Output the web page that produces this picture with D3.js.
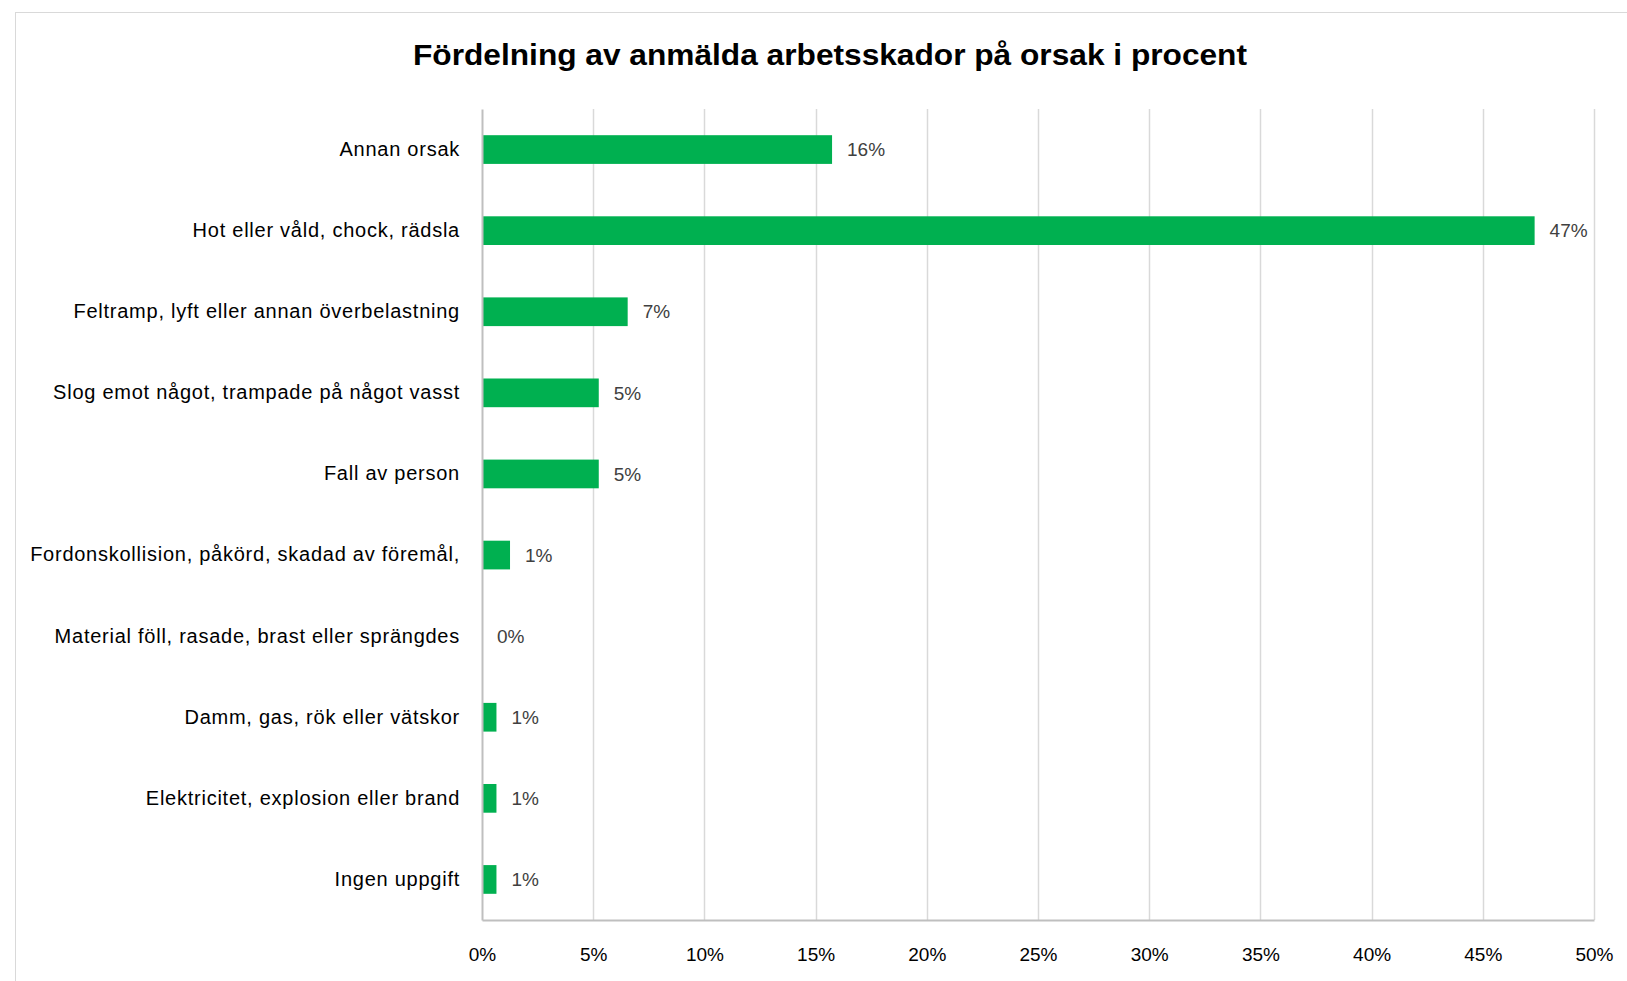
<!DOCTYPE html>
<html><head><meta charset="utf-8">
<script src="https://cdn.jsdelivr.net/npm/d3@7"></script>
<style>
html,body{margin:0;padding:0;background:#fff;}
svg{display:block;}
text{font-family:"Liberation Sans",Arial,sans-serif;}
</style></head>
<body>
<svg id="chart" width="1627" height="981"></svg>
<script>
const title = "Fördelning av anmälda arbetsskador på orsak i procent";
const categories = [
  "Annan orsak",
  "Hot eller våld, chock, rädsla",
  "Feltramp, lyft eller annan överbelastning",
  "Slog emot något, trampade på något vasst",
  "Fall av person",
  "Fordonskollision, påkörd, skadad av föremål,",
  "Material föll, rasade, brast eller sprängdes",
  "Damm, gas, rök eller vätskor",
  "Elektricitet, explosion eller brand",
  "Ingen uppgift"
];
const values = [0.1574, 0.4733, 0.0655, 0.0525, 0.0525, 0.0126, 0.0, 0.0065, 0.0065, 0.0065];
const xTicks = [0, 0.05, 0.10, 0.15, 0.20, 0.25, 0.30, 0.35, 0.40, 0.45, 0.50];

const svg = d3.select("#chart");
const W = 1627, H = 981;
const plot = {left: 482, right: 1594, top: 109, bottom: 920};

// outer chart border
svg.append("rect").attr("x", 15.5).attr("y", 12.5).attr("width", W + 20).attr("height", H + 20)
  .attr("fill", "#fff").attr("stroke", "#d9d9d9").attr("stroke-width", 1);

svg.append("text").attr("x", 830).attr("y", 65)
  .attr("text-anchor", "middle").attr("font-size", 30).attr("font-weight", "bold")
  .attr("fill", "#000").attr("textLength", 834).attr("lengthAdjust", "spacingAndGlyphs")
  .text(title);

const x = d3.scaleLinear().domain([0, 0.5]).range([plot.left, plot.right]);
const y = d3.scaleBand().domain(categories).range([plot.top, plot.bottom]).paddingInner(0.646).paddingOuter(0.323);

// gridlines
svg.append("g").selectAll("line").data(xTicks.slice(1)).join("line")
  .attr("x1", d => Math.round(x(d)) + 0.5).attr("x2", d => Math.round(x(d)) + 0.5)
  .attr("y1", plot.top).attr("y2", plot.bottom)
  .attr("stroke", "#d9d9d9").attr("stroke-width", 1.5);

// bars
svg.append("g").selectAll("rect").data(categories).join("rect")
  .attr("x", x(0)).attr("y", (d) => y(d))
  .attr("width", (d, i) => x(values[i]) - x(0)).attr("height", y.bandwidth())
  .attr("fill", "#00b050");

// value labels
const fmt = d3.format(".0%");
svg.append("g").selectAll("text").data(categories).join("text")
  .attr("x", (d, i) => x(values[i]) + 15).attr("y", d => y(d) + y.bandwidth() / 2)
  .attr("dy", "0.35em").attr("font-size", 19).attr("fill", "#404040")
  .text((d, i) => fmt(values[i]));

// y axis
const yAxis = d3.axisLeft(y).tickSize(0).tickPadding(22);
const gy = svg.append("g").attr("transform", `translate(${plot.left},0)`).call(yAxis);
gy.select(".domain").attr("stroke", "#bfbfbf").attr("stroke-width", 2);
gy.selectAll(".tick text").attr("font-size", 20).attr("fill", "#000")
  .attr("letter-spacing", "0.75px")
  .attr("font-family", "\"Liberation Sans\",Arial,sans-serif");

// x axis
const xAxis = d3.axisBottom(x).tickValues(xTicks).tickFormat(fmt).tickSize(0).tickPadding(28);
const gx = svg.append("g").attr("transform", `translate(0,${plot.bottom})`).call(xAxis);
gx.select(".domain").attr("stroke", "#bfbfbf").attr("stroke-width", 2);
gx.selectAll(".tick text").attr("font-size", 19).attr("fill", "#000")
  .attr("font-family", "\"Liberation Sans\",Arial,sans-serif");
</script>
</body></html>
